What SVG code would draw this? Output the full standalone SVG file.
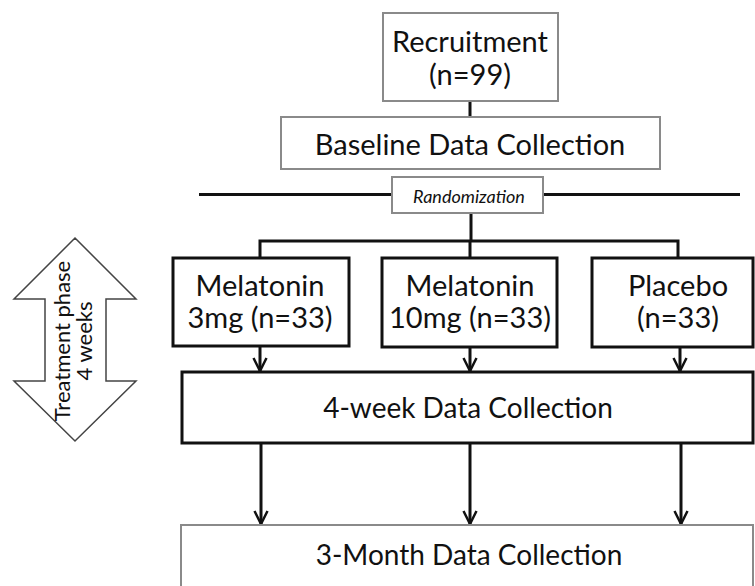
<svg xmlns="http://www.w3.org/2000/svg" width="755" height="586" viewBox="0 0 755 586">
<defs>
<style>
.t{font-family:Lato,"Open Sans","Liberation Sans",sans-serif;fill:#111;text-anchor:middle;font-size:29px}
.g{fill:#fff;stroke:#8a8a8a;stroke-width:2}
.b{fill:#fff;stroke:#111;stroke-width:3}
.c{fill:none;stroke:#111;stroke-width:3}
</style>
<marker id="ah" viewBox="0 0 16 16" refX="15" refY="8" markerWidth="16" markerHeight="16" markerUnits="userSpaceOnUse" orient="auto">
<path d="M2,1.5 L15,8 L2,14.5" fill="none" stroke="#111" stroke-width="2.5"/>
</marker>
</defs>
<rect width="755" height="586" fill="#fff"/>
<g id="connectors">
<line class="c" x1="470" y1="101" x2="470" y2="117"/>
<line class="c" x1="199" y1="194.5" x2="740" y2="194.5"/>
<line class="c" x1="471" y1="213" x2="471" y2="241"/>
<polyline class="c" points="260,258 260,241 678,241 678,258"/>
<line class="c" x1="470" y1="241" x2="470" y2="258"/>
<line class="c" x1="260" y1="346" x2="260" y2="371" marker-end="url(#ah)" stroke-width="2"/>
<line class="c" x1="470" y1="347" x2="470" y2="371" marker-end="url(#ah)" stroke-width="2"/>
<line class="c" x1="680" y1="347" x2="680" y2="371" marker-end="url(#ah)" stroke-width="2"/>
<line class="c" x1="261" y1="443" x2="261" y2="524" marker-end="url(#ah)" stroke-width="2.5"/>
<line class="c" x1="470" y1="443" x2="470" y2="524" marker-end="url(#ah)" stroke-width="2.5"/>
<line class="c" x1="681" y1="443" x2="681" y2="524" marker-end="url(#ah)" stroke-width="2.5"/>
</g>
<g id="recruitment">
<rect class="g" x="383" y="13" width="175" height="88"/>
<text class="t" x="470" y="52">Recruitment</text>
<text class="t" x="470" y="85">(n=99)</text>
</g>
<g id="baseline">
<rect class="g" x="281" y="117" width="379" height="52"/>
<text class="t" x="470" y="155">Baseline Data Collection</text>
</g>
<g id="randomization">
<rect class="g" x="392" y="177" width="151" height="36"/>
<text class="t" x="469" y="203" style="font-size:18px;font-style:italic">Randomization</text>
</g>
<g id="melatonin3">
<rect class="b" x="173" y="258" width="176" height="88"/>
<text class="t" x="260" y="296">Melatonin</text>
<text class="t" x="260" y="328">3mg (n=33)</text>
</g>
<g id="melatonin10">
<rect class="b" x="382" y="258" width="175" height="89"/>
<text class="t" x="470" y="296">Melatonin</text>
<text class="t" x="470" y="328">10mg (n=33)</text>
</g>
<g id="placebo">
<rect class="b" x="592" y="258" width="161" height="89"/>
<text class="t" x="678" y="296">Placebo</text>
<text class="t" x="678" y="328">(n=33)</text>
</g>
<g id="week4">
<rect class="b" x="182" y="372" width="571" height="71"/>
<text class="t" x="468" y="418" style="font-size:28px">4-week Data Collection</text>
</g>
<g id="month3">
<rect class="g" x="181" y="525" width="572" height="62"/>
<text class="t" x="469" y="565" style="font-size:28px">3-Month Data Collection</text>
</g>
<g id="treatment">
<polygon points="75,238 136,299 106,299 106,381 136,381 75,441 14,381 45,381 45,299 14,299" fill="#fff" stroke="#444" stroke-width="1.5"/>
<text class="t" transform="translate(70,341) rotate(-90)" style="font-size:22px">Treatment phase</text>
<text class="t" transform="translate(92,341) rotate(-90)" style="font-size:22px">4 weeks</text>
</g>
</svg>
